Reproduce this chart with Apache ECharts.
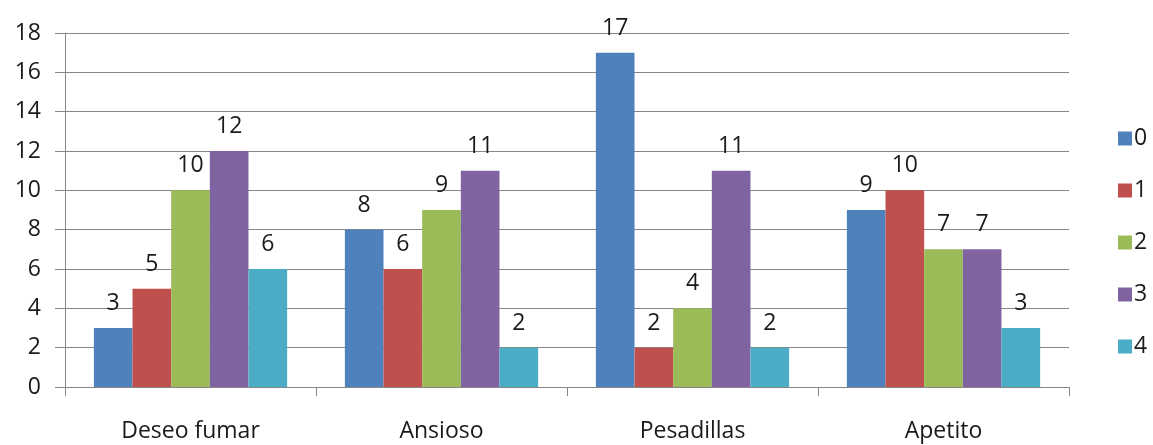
<!DOCTYPE html>
<html>
<head>
<meta charset="utf-8">
<script src="https://cdn.jsdelivr.net/npm/echarts@6/dist/echarts.min.js"></script>
<style>
html,body{margin:0;padding:0;background:#fff;}
#chart{width:1153px;height:445px;}
</style>
</head>
<body>
<div id="chart"></div>
<script>
const categories = ['Deseo fumar', 'Ansioso', 'Pesadillas', 'Apetito'];
const seriesNames = ['0', '1', '2', '3', '4'];
const s0 = [3, 8, 17, 9];
const s1 = [5, 6, 2, 10];
const s2 = [10, 9, 4, 7];
const s3 = [12, 11, 11, 7];
const s4 = [6, 2, 2, 3];
const colors = ['#4F81BD', '#C0504D', '#9BBB59', '#8064A2', '#4BACC6'];

const values = [s0, s1, s2, s3, s4];
const font = "'Open Sans', 'Liberation Sans', sans-serif";
const textColor = '#1a1a1a';
const lineColor = '#868686';

const chart = echarts.init(document.getElementById('chart'));
chart.setOption({
  animation: false,
  textStyle: { fontFamily: font },
  legend: {
    orient: 'vertical',
    left: 1113,
    top: 118,
    itemWidth: 14,
    itemHeight: 14,
    itemGap: 21,
    icon: 'rect',
    textStyle: { fontSize: 23, lineHeight: 31, color: textColor, fontFamily: font, padding: [0, 0, 0, -3] },
    data: seriesNames
  },
  grid: { left: 65, right: 84, top: 33, bottom: 58, containLabel: false },
  xAxis: {
    type: 'category',
    data: categories,
    axisLine: { lineStyle: { color: lineColor, width: 1 } },
    axisTick: { show: true, length: 9, lineStyle: { color: lineColor } },
    axisLabel: { fontSize: 23, color: textColor, margin: 33, fontFamily: font }
  },
  yAxis: {
    type: 'value',
    min: 0,
    max: 18,
    interval: 2,
    axisLine: { show: true, lineStyle: { color: lineColor } },
    axisTick: { show: true, length: 10, lineStyle: { color: lineColor } },
    splitLine: { lineStyle: { color: lineColor, width: 1 } },
    axisLabel: { fontSize: 23, color: textColor, margin: 24, fontFamily: font }
  },
  series: values.map((v, i) => ({
    name: seriesNames[i],
    type: 'bar',
    data: v,
    barGap: '0%',
    barCategoryGap: '23%',
    itemStyle: { color: colors[i] },
    label: {
      show: true,
      position: 'top',
      distance: 13,
      fontSize: 23,
      color: textColor,
      fontFamily: font
    }
  }))
});
</script>
</body>
</html>
